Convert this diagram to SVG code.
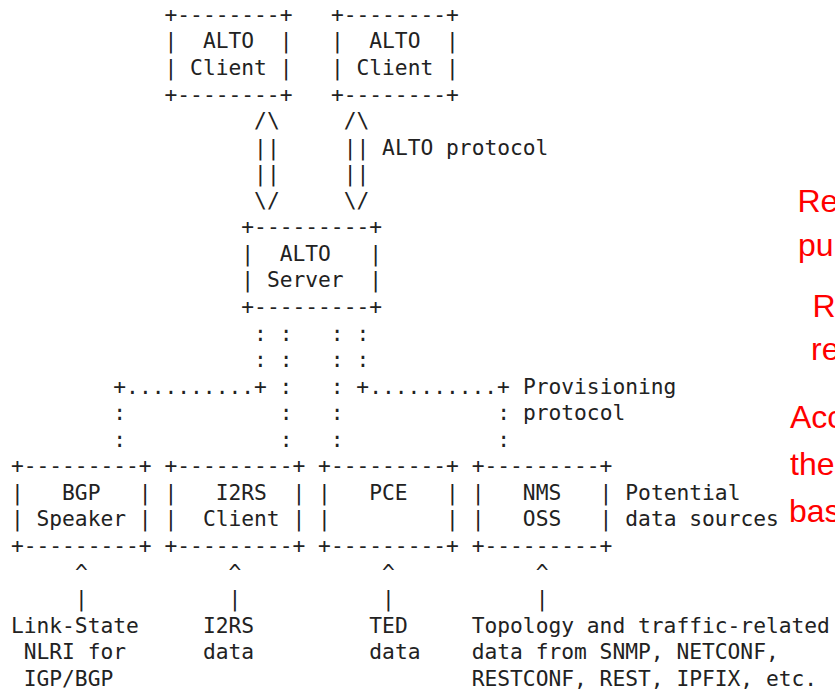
<svg xmlns="http://www.w3.org/2000/svg" width="835" height="691" viewBox="0 0 835 691">
<style>
text{white-space:pre}
.m{font-family:"DejaVu Sans Mono","Liberation Mono",monospace;font-size:21.26px;fill:#222}
.r{font-family:"Liberation Sans",Arial,sans-serif;font-size:32px;fill:#ff0000}
</style>
<rect width="835" height="691" fill="#ffffff"/>
<g id="client1" class="m">
<text x="164.5" y="21.8" class="m">+--------+</text>
<text x="164.5" y="48.4" class="m">|  ALTO  |</text>
<text x="164.5" y="74.9" class="m">| Client |</text>
<text x="164.5" y="101.5" class="m">+--------+</text>
</g>
<g id="client2">
<text x="330.9" y="21.8" class="m">+--------+</text>
<text x="330.9" y="48.4" class="m">|  ALTO  |</text>
<text x="330.9" y="74.9" class="m">| Client |</text>
<text x="330.9" y="101.5" class="m">+--------+</text>
</g>
<g id="server">
<text x="241.3" y="234.3" class="m">+---------+</text>
<text x="241.3" y="260.8" class="m">|  ALTO   |</text>
<text x="241.3" y="287.4" class="m">| Server  |</text>
<text x="241.3" y="314.0" class="m">+---------+</text>
</g>
<g id="bgp">
<text x="10.9" y="473.3" class="m">+---------+</text>
<text x="10.9" y="499.9" class="m">|   BGP   |</text>
<text x="10.9" y="526.4" class="m">| Speaker |</text>
<text x="10.9" y="553.0" class="m">+---------+</text>
</g>
<g id="i2rs">
<text x="164.5" y="473.3" class="m">+---------+</text>
<text x="164.5" y="499.9" class="m">|   I2RS  |</text>
<text x="164.5" y="526.4" class="m">|  Client |</text>
<text x="164.5" y="553.0" class="m">+---------+</text>
</g>
<g id="pce">
<text x="318.1" y="473.3" class="m">+---------+</text>
<text x="318.1" y="499.9" class="m">|   PCE   |</text>
<text x="318.1" y="526.4" class="m">|         |</text>
<text x="318.1" y="553.0" class="m">+---------+</text>
</g>
<g id="nms">
<text x="471.7" y="473.3" class="m">+---------+</text>
<text x="471.7" y="499.9" class="m">|   NMS   |</text>
<text x="471.7" y="526.4" class="m">|   OSS   |</text>
<text x="471.7" y="553.0" class="m">+---------+</text>
</g>
<g id="connectors">
<text x="254.1" y="128.0" class="m">/\</text>
<text x="254.1" y="154.6" class="m">||</text>
<text x="254.1" y="181.2" class="m">||</text>
<text x="254.1" y="207.7" class="m">\/</text>
<text x="343.7" y="128.0" class="m">/\</text>
<text x="343.7" y="154.6" class="m">||</text>
<text x="343.7" y="181.2" class="m">||</text>
<text x="343.7" y="207.7" class="m">\/</text>
<text x="254.1" y="340.5" class="m">: :   : :</text>
<text x="254.1" y="367.1" class="m">: :   : :</text>
<text x="113.3" y="393.6" class="m">+..........+ :   : +..........+</text>
<text x="113.3" y="420.2" class="m">:</text>
<text x="279.7" y="420.2" class="m">:   :</text>
<text x="497.3" y="420.2" class="m">:</text>
<text x="113.3" y="446.8" class="m">:</text>
<text x="279.7" y="446.8" class="m">:   :</text>
<text x="497.3" y="446.8" class="m">:</text>
<text x="74.9" y="579.6" class="m">^</text>
<text x="228.5" y="579.6" class="m">^</text>
<text x="382.1" y="579.6" class="m">^</text>
<text x="535.7" y="579.6" class="m">^</text>
<text x="74.9" y="606.1" class="m">|</text>
<text x="228.5" y="606.1" class="m">|</text>
<text x="382.1" y="606.1" class="m">|</text>
<text x="535.7" y="606.1" class="m">|</text>
</g>
<g id="labels">
<text x="382.1" y="154.6" class="m">ALTO protocol</text>
<text x="522.9" y="393.6" class="m">Provisioning</text>
<text x="522.9" y="420.2" class="m">protocol</text>
<text x="625.3" y="499.9" class="m">Potential</text>
<text x="625.3" y="526.4" class="m">data sources</text>
<text x="10.9" y="632.7" class="m">Link-State</text>
<text x="23.7" y="659.2" class="m">NLRI for</text>
<text x="23.7" y="685.8" class="m">IGP/BGP</text>
<text x="202.9" y="632.7" class="m">I2RS</text>
<text x="202.9" y="659.2" class="m">data</text>
<text x="369.3" y="632.7" class="m">TED</text>
<text x="369.3" y="659.2" class="m">data</text>
<text x="471.7" y="632.7" class="m">Topology and traffic-related</text>
<text x="471.7" y="659.2" class="m">data from SNMP, NETCONF,</text>
<text x="471.7" y="685.8" class="m">RESTCONF, REST, IPFIX, etc.</text>
</g>
<g id="notes">
<text x="797.5" y="211.7" class="r">Re</text>
<text x="798" y="255.5" class="r">pu</text>
<text x="812.5" y="316.7" class="r">R</text>
<text x="811" y="360" class="r">re</text>
<text x="790" y="428.3" class="r">Acc</text>
<text x="790" y="475" class="r">the</text>
<text x="789" y="521.7" class="r">bas</text>
</g>
</svg>
